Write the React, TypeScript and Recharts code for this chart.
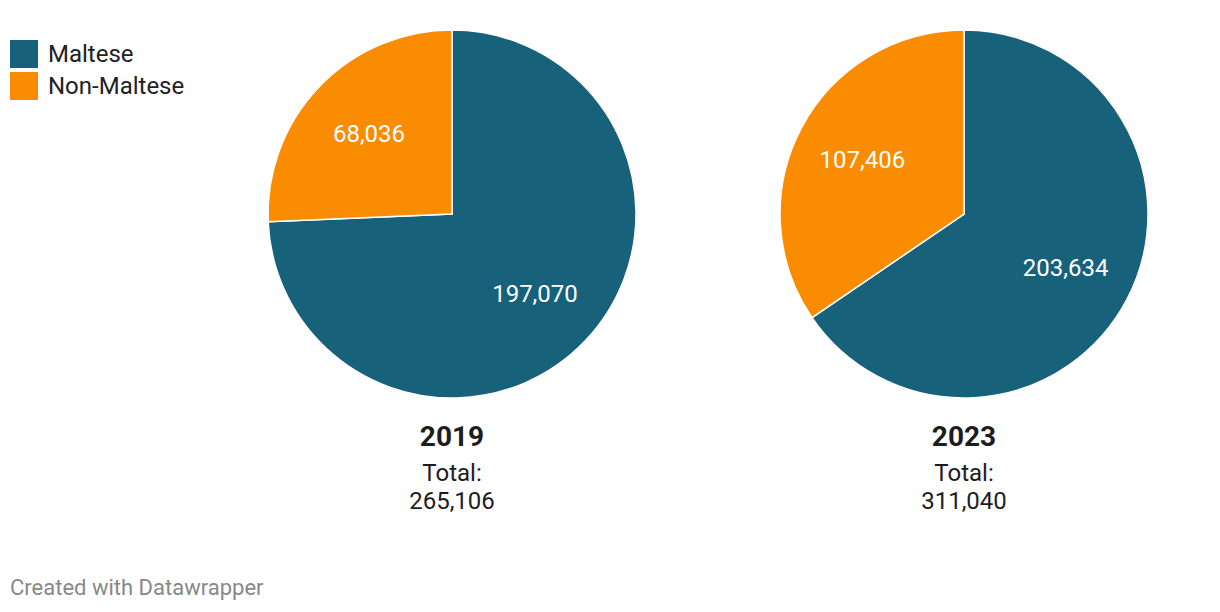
import React from "react";
import { PieChart, Pie, Cell } from "recharts";

const categories = ["Maltese", "Non-Maltese"];
const colors = ["#18617b", "#f98c00"];
const years = ["2019", "2023"];
const values2019 = [197070, 68036];
const values2023 = [203634, 107406];
const totals = ["265,106", "311,040"];

const font = "Roboto, 'Noto Sans', sans-serif";
const RAD = Math.PI / 180;

const data2019 = categories.map((name, i) => ({ name, value: values2019[i] }));
const data2023 = categories.map((name, i) => ({ name, value: values2023[i] }));

const pieCenters = [452, 964];

function renderLabel(props: any) {
    const { cx, cy, midAngle, outerRadius, value } = props;
    const r = outerRadius * 0.625;
    const x = cx + r * Math.cos(-midAngle * RAD);
    const y = cy + r * Math.sin(-midAngle * RAD);
    return (
        <text
            x={x}
            y={y}
            fill="#ffffff"
            textAnchor="middle"
            dominantBaseline="central"
            fontFamily={font}
            fontSize={24}
        >
            {value.toLocaleString("en-US")}
        </text>
    );
}

export default function App() {
    return (
        <div style={{ position: "absolute", left: 0, top: 0, width: 1220, height: 612, background: "#fff", fontFamily: font }}>
            <PieChart
                width={1220}
                height={612}
                margin={{ top: 0, right: 0, bottom: 0, left: 0 }}
                style={{ position: "absolute", left: 0, top: 0 }}
            >
                {[data2019, data2023].map((d, k) => (
                    <Pie
                        key={years[k]}
                        data={d}
                        dataKey="value"
                        nameKey="name"
                        cx={pieCenters[k]}
                        cy={214}
                        outerRadius={184}
                        startAngle={90}
                        endAngle={-270}
                        stroke="#ffffff"
                        strokeWidth={1.5}
                        label={renderLabel}
                        labelLine={false}
                        isAnimationActive={false}
                    >
                        {d.map((entry, i) => (
                            <Cell key={`cell-${i}`} fill={colors[i]} />
                        ))}
                    </Pie>
                ))}
            </PieChart>

            {/* legend */}
            {categories.map((c, i) => (
                <div key={c} style={{ position: "absolute", left: 10, top: 40 + i * 32, display: "flex", alignItems: "center" }}>
                    <div style={{ width: 28, height: 28, background: colors[i] }} />
                    <span style={{ marginLeft: 10, fontSize: 24, color: "#222", lineHeight: "28px" }}>{c}</span>
                </div>
            ))}

            {/* titles under pies */}
            {years.map((y, k) => (
                <div
                    key={y}
                    style={{ position: "absolute", left: pieCenters[k] - 100, top: 420, width: 200, textAlign: "center", color: "#1d1d1d" }}
                >
                    <div style={{ fontSize: 28, fontWeight: 700, lineHeight: "34px" }}>{y}</div>
                    <div style={{ fontSize: 24, lineHeight: "28px", marginTop: 5 }}>Total:</div>
                    <div style={{ fontSize: 24, lineHeight: "28px" }}>{totals[k]}</div>
                </div>
            ))}

            <div style={{ position: "absolute", left: 10, top: 576, fontSize: 22, color: "#888", lineHeight: "24px" }}>
                Created with Datawrapper
            </div>
        </div>
    );
}
